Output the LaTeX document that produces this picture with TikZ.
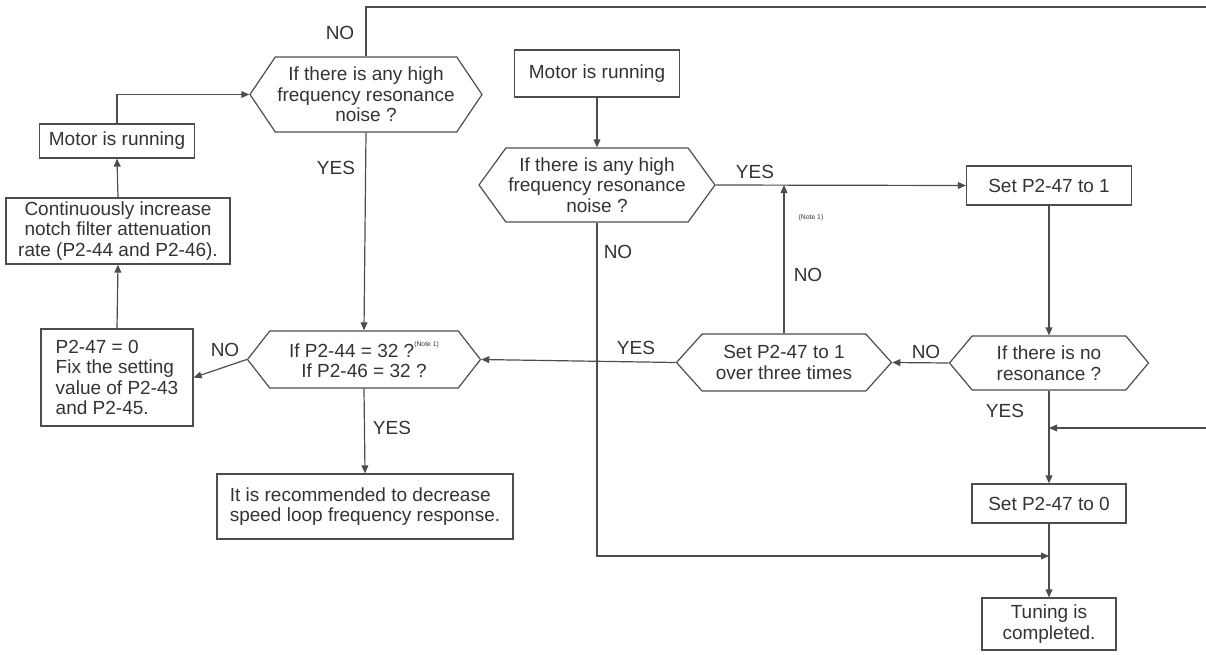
\documentclass[tikz,border=0pt]{standalone}
\usepackage{fontspec}
\setmainfont{Liberation Sans}
\usetikzlibrary{shapes.symbols,arrows.meta}
\definecolor{lnclr}{HTML}{4D4D4D}
\definecolor{txclr}{HTML}{333333}
\tikzset{
  box/.style={draw=lnclr, line width=0.6pt, text=txclr, align=center, inner sep=1pt},
  hexbox/.style={box, signal, signal to=west and east, signal pointer angle=104},
  lbl/.style={text=txclr, inner sep=0pt},
  link/.style={draw=lnclr, line width=0.6pt},
  flow/.style={link, -{Triangle[length=4pt,width=3.4pt]}},
}
\newcommand{\notemark}{\raisebox{1.1ex}{\fontsize{3.4}{4}\selectfont(Note 1)}}
\begin{document}
\begin{tikzpicture}[x=0.5pt, y=-0.5pt, every node/.style={font=\fontsize{9.5}{10.3}\selectfont}]
  \useasboundingbox (0,0) rectangle (1206,654);
  \node[box, minimum width=77.5pt, minimum height=17pt] (runL) at (117,141) {Motor is running};
  \node[box, minimum width=112pt, minimum height=33pt] (incr) at (118,231) {Continuously increase\\notch filter attenuation\\rate (P2-44 and P2-46).};
  \node[box, align=left, minimum width=76pt, minimum height=48.5pt] (fixv) at (117,377.5) {P2-47 = 0\\Fix the setting\\value of P2-43\\and P2-45.};
  \node[hexbox, signal pointer angle=112, minimum width=116pt, minimum height=37.5pt] (noiseL) at (366,94.5) {If there is any high\\frequency resonance\\noise ?};
  \node[hexbox, minimum width=116.5pt, minimum height=28.5pt] (chk) at (364,359.5) {If P2-44 = 32 ?\notemark\\If P2-46 = 32 ?};
  \node[box, align=left, minimum width=148pt, minimum height=32.5pt] (advice) at (365,506.5) {It is recommended to decrease\\speed loop frequency response.};
  \node[box, minimum width=82.5pt, minimum height=23.5pt] (runM) at (597,73.5) {Motor is running};
  \node[hexbox, signal pointer angle=108, minimum width=118pt, minimum height=37pt] (noiseM) at (597,185) {If there is any high\\frequency resonance\\noise ?};
  \node[box, minimum width=82.5pt, minimum height=19.5pt] (set1) at (1049,185.5) {Set P2-47 to 1};
  \node[hexbox, signal pointer angle=96, minimum width=107.5pt, minimum height=28.5pt] (over3) at (784,362.5) {Set P2-47 to 1\\over three times};
  \node[hexbox, signal pointer angle=100, minimum width=99.5pt, minimum height=27pt] (nores) at (1049,363) {If there is no\\resonance ?};
  \node[box, minimum width=77pt, minimum height=19.5pt] (set0) at (1049,503.5) {Set P2-47 to 0};
  \node[box, minimum width=67pt, minimum height=26pt] (done) at (1049,624) {Tuning is\\completed.};
  \coordinate (outT) at (1206,7);
  \coordinate (inR) at (1206,428);
  \coordinate (join) at (1049,556);

  \draw[link] (noiseL.north) |- (outT);
  \draw[flow] (runL.north) |- (noiseL.west);
  \draw[flow] (incr.north) -- (runL.south);
  \draw[flow] (fixv.north) -- (incr.south);
  \draw[flow] (noiseL.south) -- (chk.north);
  \draw[flow] (chk.west) -- (fixv.east);
  \draw[flow] (chk.south) -- (advice.north);
  \draw[flow] (runM.south) -- (noiseM.north);
  \draw[flow] (noiseM.east) -- (set1.west);
  \draw[flow] (set1.south) -- (nores.north);
  \draw[flow] (nores.west) -- (over3.east);
  \draw[flow] (over3.west) -- (chk.east);
  \draw[flow] (over3.north) -- (over3.north |- noiseM.east);
  \draw[flow] (nores.south) -- (set0.north);
  \draw[flow] (set0.south) -- (done.north);
  \draw[flow] (noiseM.south) |- (join);
  \draw[flow] (inR) -- (inR -| set0.south);

  \node[lbl] (noA) at (340,33) {NO};
  \node[lbl] (yesA) at (336,168) {YES};
  \node[lbl] (noB) at (225,350) {NO};
  \node[lbl] (yesB) at (392,428) {YES};
  \node[lbl] (yesC) at (755,172) {YES};
  \node[lbl, font=\fontsize{3.4}{4}\selectfont] (noteC) at (811,218) {(Note 1)};
  \node[lbl] (noC) at (808,275) {NO};
  \node[lbl] (noM) at (618,252) {NO};
  \node[lbl] (yesD) at (636,348) {YES};
  \node[lbl] (noD) at (926,352) {NO};
  \node[lbl] (yesE) at (1005,411) {YES};
\end{tikzpicture}
\end{document}
